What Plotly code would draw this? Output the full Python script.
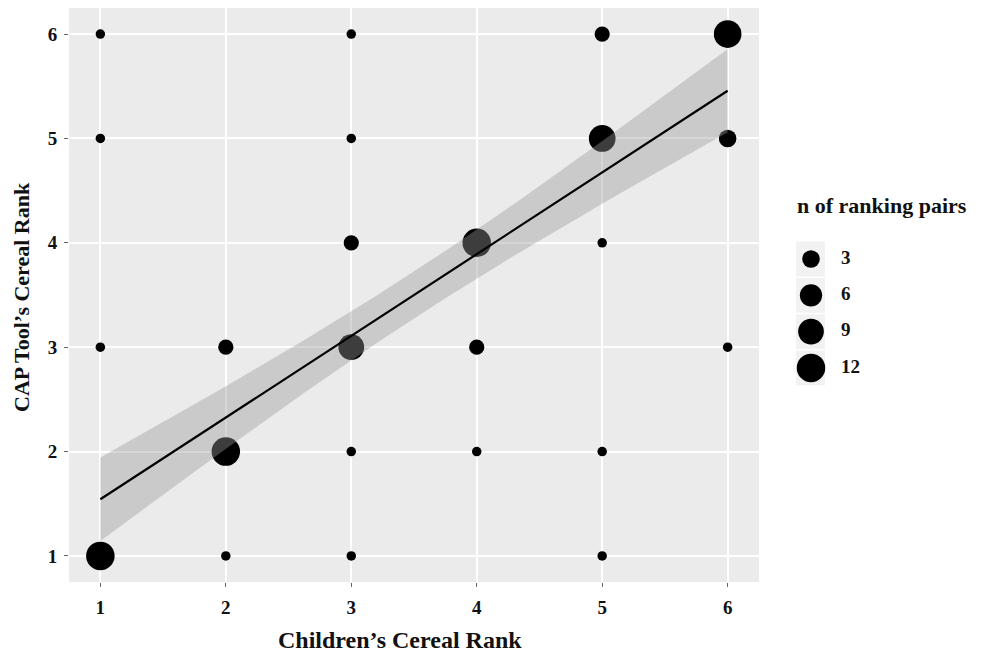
import numpy as np
import plotly.graph_objects as go

# ---- data ----
children_rank = [1, 1, 1, 1, 2, 2, 2, 3, 3, 3, 3, 3, 3, 4, 4, 4, 5, 5, 5, 5, 5, 6, 6, 6]
cap_rank      = [1, 3, 5, 6, 1, 2, 3, 1, 2, 3, 4, 5, 6, 2, 3, 4, 1, 2, 4, 5, 6, 3, 5, 6]
n_pairs       = [12, 1, 1, 1, 1, 12, 2, 1, 1, 9, 2, 1, 1, 1, 2, 12, 1, 1, 1, 10, 2, 1, 3, 11]
legend_breaks = [3, 6, 9, 12]
tick_values = [1, 2, 3, 4, 5, 6]

x_title = "Children’s Cereal Rank"
y_title = "CAP Tool’s Cereal Rank"
legend_title = "n of ranking pairs"

FONT = "Liberation Serif"
OFF = 8                      # page body margin of the browser
W, H = 982 - OFF, 655 - OFF  # figure size so that it fills the window


def px_x(p):  # screenshot pixel -> paper x
    return (p - OFF) / W


def px_y(p):  # screenshot pixel -> paper y
    return 1 - (p - OFF) / H


# panel box in screenshot pixels
PL, PR, PT, PB = 69, 759, 8, 582

# ---- size scale (ggplot-like area scale) ----
n_min, n_max = min(n_pairs), max(n_pairs)
D_MIN, D_MAX = 9.5, 28.5


def size_px(n):
    n = np.asarray(n, dtype=float)
    return D_MIN + (D_MAX - D_MIN) * np.sqrt((n - n_min) / (n_max - n_min))


# ---- linear model with 95% CI (like geom_smooth(method='lm')) ----
xs = np.repeat(children_rank, n_pairs).astype(float)
ys = np.repeat(cap_rank, n_pairs).astype(float)
N = len(xs)
slope, intercept = np.polyfit(xs, ys, 1)
resid = ys - (intercept + slope * xs)
sigma = np.sqrt(np.sum(resid ** 2) / (N - 2))
sxx = np.sum((xs - xs.mean()) ** 2)
T975 = 1.987  # t quantile, df = N-2
xg = np.linspace(min(children_rank), max(children_rank), 80)
yg = intercept + slope * xg
se = sigma * np.sqrt(1.0 / N + (xg - xs.mean()) ** 2 / sxx)
lo, hi = yg - T975 * se, yg + T975 * se

fig = go.Figure()

# points (drawn first, ribbon is drawn on top as in ggplot)
fig.add_trace(go.Scatter(
    x=children_rank, y=cap_rank, mode="markers",
    marker=dict(size=size_px(n_pairs), color="black", opacity=1, line=dict(width=0)),
    showlegend=False, hoverinfo="skip"))

fig.add_trace(go.Scatter(x=xg, y=lo, mode="lines", line=dict(width=0),
                         showlegend=False, hoverinfo="skip"))
fig.add_trace(go.Scatter(x=xg, y=hi, mode="lines", line=dict(width=0),
                         fill="tonexty", fillcolor="rgba(153,153,153,0.4)",
                         showlegend=False, hoverinfo="skip"))
fig.add_trace(go.Scatter(x=xg, y=yg, mode="lines",
                         line=dict(color="black", width=2.2),
                         showlegend=False, hoverinfo="skip"))

# ---- manual size legend in its own hidden axes (1 x-unit = 1 px) ----
idx = list(range(len(legend_breaks)))
leg_top, leg_bot = 236, 392
c0, step = 259, 36.3
y2_range = [(leg_bot - c0) / step, (leg_top - c0) / step]

fig.add_shape(type="rect", xref="x2", yref="y2", x0=0, x1=100,
              y0=y2_range[0], y1=y2_range[1], fillcolor="white",
              line=dict(width=0), layer="below")
for i in idx:
    fig.add_shape(type="rect", xref="x2", yref="y2", x0=0, x1=29,
                  y0=i - 0.48, y1=i + 0.48, fillcolor="#F2F2F2",
                  line=dict(width=0), layer="below")

fig.add_trace(go.Scatter(
    x=[15] * len(idx), y=idx, mode="markers", xaxis="x2", yaxis="y2",
    marker=dict(size=size_px(legend_breaks), color="black", opacity=1, line=dict(width=0)),
    showlegend=False, hoverinfo="skip"))
fig.add_trace(go.Scatter(
    x=[45] * len(idx), y=idx, mode="text", xaxis="x2", yaxis="y2",
    text=[str(b) for b in legend_breaks], textposition="middle right",
    textfont=dict(family=FONT, size=19, color="#111", weight="bold"),
    showlegend=False, hoverinfo="skip"))

axis_common = dict(
    range=[0.75, 6.25], tickvals=tick_values, ticktext=[str(v) for v in tick_values],
    showgrid=True, gridcolor="white", gridwidth=1.5, zeroline=False,
    ticks="outside", ticklen=4, tickcolor="#666", tickwidth=1,
    tickfont=dict(family=FONT, size=19, color="#111", weight="bold"),
    showline=False, automargin=False, fixedrange=True,
)

fig.update_layout(
    width=W, height=H,
    paper_bgcolor="white", plot_bgcolor="#EBEBEB",
    margin=dict(l=0, r=0, t=0, b=0, autoexpand=False),
    xaxis=dict(**axis_common, domain=[px_x(PL), px_x(PR)], anchor="y", ticklabelstandoff=4),
    yaxis=dict(**axis_common, domain=[px_y(PB), px_y(PT)], anchor="x", ticklabelstandoff=3),
    xaxis2=dict(domain=[px_x(796), px_x(896)], range=[0, 100], visible=False,
                anchor="y2", fixedrange=True, automargin=False),
    yaxis2=dict(domain=[px_y(leg_bot), px_y(leg_top)], range=y2_range,
                visible=False, anchor="x2", fixedrange=True, automargin=False),
    showlegend=False,
)

fig.add_annotation(text=x_title, xref="paper", yref="paper",
                   x=px_x(400), y=px_y(640), showarrow=False,
                   xanchor="center", yanchor="middle",
                   font=dict(family=FONT, size=24, color="#111", weight="bold"))
fig.add_annotation(text=y_title, xref="paper", yref="paper",
                   x=px_x(21), y=px_y(297), showarrow=False, textangle=-90,
                   xanchor="center", yanchor="middle",
                   font=dict(family=FONT, size=22, color="#111", weight="bold"))
fig.add_annotation(text=legend_title, xref="paper", yref="paper",
                   x=px_x(795), y=px_y(206), showarrow=False,
                   xanchor="left", yanchor="middle",
                   font=dict(family=FONT, size=22, color="#111", weight="bold"))

fig.write_html("out.html")
